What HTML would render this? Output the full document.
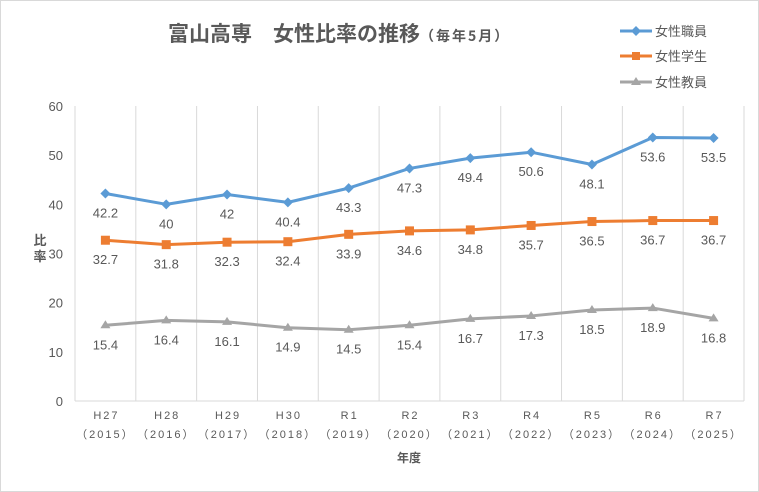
<!DOCTYPE html>
<html><head><meta charset="utf-8"><style>
body{margin:0;background:#fff}
svg{display:block;font-family:"Liberation Sans","Noto Sans CJK JP",sans-serif}
</style></head><body>
<svg width="759" height="492" viewBox="0 0 759 492">
<rect x="0.5" y="0.5" width="758" height="491" fill="#fff" stroke="#d9d9d9"/>
<text x="168" y="41" font-size="21" font-weight="bold" fill="#595959" font-family="Noto Sans CJK JP,sans-serif">富山高専　女性比率の推移<tspan font-size="14" letter-spacing="2">（毎年5月）</tspan></text>
<g id="grid" stroke="#d9d9d9" stroke-width="1"></g>
<g id="series"></g>
<g font-size="13" fill="#595959" text-anchor="end" id="yt"></g>
<g font-size="11" fill="#595959" text-anchor="middle" letter-spacing="2" id="xt"></g>
<text x="40" y="245" font-size="13" font-weight="bold" fill="#595959" font-family="Noto Sans CJK JP,sans-serif" text-anchor="middle">比</text>
<text x="40" y="261" font-size="13" font-weight="bold" fill="#595959" font-family="Noto Sans CJK JP,sans-serif" text-anchor="middle">率</text>
<text x="409" y="462" font-size="12" font-weight="bold" fill="#595959" font-family="Noto Sans CJK JP,sans-serif" text-anchor="middle">年度</text>
<g font-size="13" fill="#595959" font-family="Noto Sans CJK JP,sans-serif">
<line x1="620" y1="31" x2="652" y2="31" stroke="#5b9bd5" stroke-width="3"/><path d="M636 26l5 5-5 5-5-5z" fill="#5b9bd5"/><text x="655" y="36">女性職員</text>
<line x1="620" y1="56" x2="652" y2="56" stroke="#ed7d31" stroke-width="3"/><rect x="632" y="52" width="8" height="8" fill="#ed7d31"/><text x="655" y="61">女性学生</text>
<line x1="620" y1="82" x2="652" y2="82" stroke="#a5a5a5" stroke-width="3"/><path d="M636 77l5 8h-10z" fill="#a5a5a5"/><text x="655" y="87">女性教員</text>
</g>
</svg>
<script>
const ns="http://www.w3.org/2000/svg";
const L=75,R=744,T=106,B=401,n=11,w=(R-L)/n;
const Y=v=>B-(B-T)*v/60, X=i=>L+w*(i+0.5);
function el(p,t,a,txt){const e=document.createElementNS(ns,t);for(const k in a)e.setAttribute(k,a[k]);if(txt!=null)e.textContent=txt;document.getElementById(p).appendChild(e);return e;}
for(let i=0;i<=n;i++)el("grid","line",{x1:L+w*i,x2:L+w*i,y1:T,y2:B});
el("grid","line",{x1:L,x2:R,y1:B,y2:B});
for(let v=0;v<=60;v+=10)el("yt","text",{x:63,y:Y(v)+5},v);
const xl=[["H27","2015"],["H28","2016"],["H29","2017"],["H30","2018"],["R1","2019"],["R2","2020"],["R3","2021"],["R4","2022"],["R5","2023"],["R6","2024"],["R7","2025"]];
xl.forEach((a,i)=>{el("xt","text",{x:X(i)+1,y:419},a[0]);el("xt","text",{x:X(i),y:438},"（"+a[1]+"）");});
const S=[
{c:"#5b9bd5",m:"d",d:[42.2,40,42,40.4,43.3,47.3,49.4,50.6,48.1,53.6,53.5]},
{c:"#ed7d31",m:"s",d:[32.7,31.8,32.3,32.4,33.9,34.6,34.8,35.7,36.5,36.7,36.7]},
{c:"#a5a5a5",m:"t",d:[15.4,16.4,16.1,14.9,14.5,15.4,16.7,17.3,18.5,18.9,16.8]}];
S.forEach(s=>{
 el("series","polyline",{points:s.d.map((v,i)=>X(i)+","+Y(v)).join(" "),fill:"none",stroke:s.c,"stroke-width":3,"stroke-linejoin":"round"});
 s.d.forEach((v,i)=>{const x=X(i),y=Y(v);
  if(s.m=="d")el("series","path",{d:`M${x} ${y-5}l5 5-5 5-5-5z`,fill:s.c});
  else if(s.m=="s")el("series","rect",{x:x-4.5,y:y-4.5,width:9,height:9,fill:s.c});
  else el("series","path",{d:`M${x} ${y-5}l5 8h-10z`,fill:s.c});
  el("series","text",{x:x,y:y+24,"font-size":13,fill:"#595959","text-anchor":"middle"},v);
 });
});
</script>
</body></html>
